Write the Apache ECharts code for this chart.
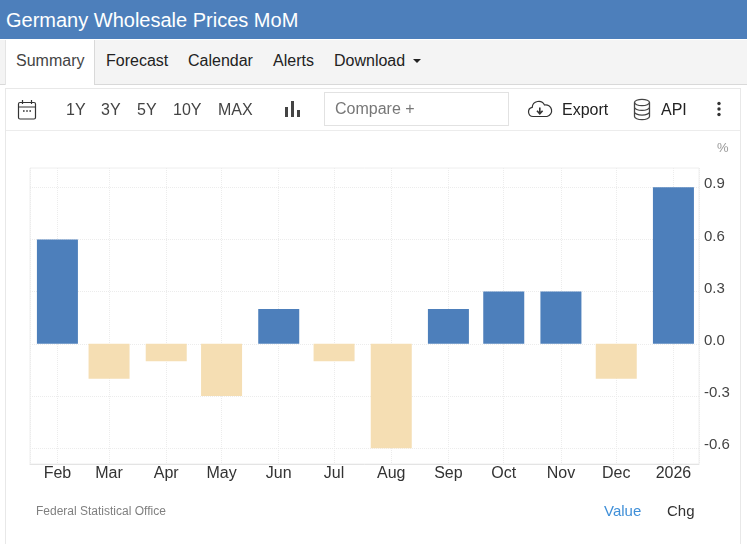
<!DOCTYPE html>
<html lang="en">
<head>
<meta charset="UTF-8">
<title>Germany Wholesale Prices MoM</title>
<script src="https://cdn.jsdelivr.net/npm/echarts@6/dist/echarts.min.js"></script>
<style>
  html, body { margin: 0; padding: 0; background: #fff; overflow: hidden; }
  body { width: 747px; height: 544px; position: relative; font-family: "Liberation Sans", Arial, sans-serif; }
  #main { position: absolute; left: 0; top: 0; width: 747px; height: 544px; }
  .box { position: absolute; box-sizing: border-box; }
  .t { position: absolute; white-space: nowrap; font-size: 16px; line-height: 20px; color: #333; }
  svg { position: absolute; }
</style>
</head>
<body>
  <div class="box" style="left:5px;top:88px;width:736px;height:456px;border:1px solid #e8e8e8;border-bottom:0"></div>
  <div class="box" style="left:6px;top:130px;width:734px;height:1px;background:#ececec"></div>
  <div id="main"></div>

  <div class="box" style="left:0;top:0;width:747px;height:39px;background:#4d7fbb"></div>
  <div class="t" style="left:6px;top:9px;font-size:20px;line-height:23px;color:#fff">Germany Wholesale Prices MoM</div>

  <div class="box" style="left:0;top:40px;width:747px;height:45px;background:#f4f4f4;border-bottom:1px solid #d9d9d9"></div>
  <div class="box" style="left:5px;top:40px;width:90px;height:45px;background:#fff;border-left:1px solid #e4e4e4;border-right:1px solid #d9d9d9"></div>
  <div class="t" style="left:16px;top:51px;color:#444">Summary</div>
  <div class="t" style="left:106px;top:51px;color:#222">Forecast</div>
  <div class="t" style="left:188px;top:51px;color:#222">Calendar</div>
  <div class="t" style="left:273px;top:51px;color:#222">Alerts</div>
  <div class="t" style="left:334px;top:51px;color:#222">Download</div>
  <svg style="left:412px;top:58px" width="10" height="6"><path d="M1 1h8L5 5z" fill="#222"/></svg>

  <svg style="left:17px;top:99px" width="20" height="22" fill="none" stroke="#333" stroke-width="1.2">
    <rect x="1.5" y="3.5" width="17" height="16.5" rx="1.5"/>
    <path d="M1.5 8h17M5.5 1v4M14.5 1v4"/>
    <path d="M6 12h1.6M9.2 12h1.6M12.4 12h1.6" stroke-width="1.6"/>
  </svg>
  <div class="t" style="left:66px;top:100px;color:#444">1Y</div>
  <div class="t" style="left:101px;top:100px;color:#444">3Y</div>
  <div class="t" style="left:137px;top:100px;color:#444">5Y</div>
  <div class="t" style="left:173px;top:100px;color:#444">10Y</div>
  <div class="t" style="left:218px;top:100px;color:#444">MAX</div>
  <svg style="left:284px;top:100px" width="16" height="18" fill="#444">
    <rect x="1" y="7" width="3" height="10"/><rect x="7" y="1" width="3" height="16"/><rect x="13" y="10" width="3" height="7"/>
  </svg>
  <div class="box" style="left:324px;top:92px;width:185px;height:34px;border:1px solid #e2e2e2;background:#fff"></div>
  <div class="t" style="left:335px;top:99px;color:#777">Compare +</div>
  <svg style="left:527px;top:99px" width="26" height="20" fill="none" stroke="#333" stroke-width="1.2">
    <path d="M7 17.5H6a4.6 4.6 0 0 1-.8-9.1A6.5 6.5 0 0 1 17.5 6a5.8 5.8 0 0 1 2.5 11.5z"/>
    <path d="M12.8 8.5v6M10 11.8l2.8 3 2.8-3" stroke-width="1.6"/>
  </svg>
  <div class="t" style="left:562px;top:100px;color:#222">Export</div>
  <svg style="left:633px;top:98px" width="18" height="23" fill="none" stroke="#444" stroke-width="1.3">
    <ellipse cx="9" cy="4.5" rx="7.5" ry="3.2"/>
    <path d="M1.5 4.5v14c0 1.8 3.4 3.2 7.5 3.2s7.5-1.4 7.5-3.2v-14M1.5 9.2c0 1.8 3.4 3.2 7.5 3.2s7.5-1.4 7.5-3.2M1.5 13.9c0 1.8 3.4 3.2 7.5 3.2s7.5-1.4 7.5-3.2"/>
  </svg>
  <div class="t" style="left:661px;top:100px;color:#222">API</div>
  <svg style="left:716px;top:101px" width="6" height="16" fill="#333">
    <circle cx="3" cy="2.5" r="1.7"/><circle cx="3" cy="8" r="1.7"/><circle cx="3" cy="13.5" r="1.7"/>
  </svg>

  <div class="t" style="left:717px;top:140px;font-size:13px;line-height:15px;color:#999">%</div>
  <div class="t" style="left:36px;top:504px;font-size:12px;line-height:14px;color:#808080">Federal Statistical Office</div>
  <div class="t" style="left:604px;top:502px;font-size:15px;line-height:18px;color:#3f8fd8">Value</div>
  <div class="t" style="left:667px;top:502px;font-size:15px;line-height:18px;color:#333">Chg</div>

  <script type="text/javascript">
    const dates = ['2025-02-01', '2025-03-01', '2025-04-01', '2025-05-01', '2025-06-01', '2025-07-01',
                   '2025-08-01', '2025-09-01', '2025-10-01', '2025-11-01', '2025-12-01', '2026-01-01'];
    const tickLabels = ['Feb', 'Mar', 'Apr', 'May', 'Jun', 'Jul', 'Aug', 'Sep', 'Oct', 'Nov', 'Dec', '2026'];
    const values = [0.6, -0.2, -0.1, -0.3, 0.2, -0.1, -0.6, 0.2, 0.3, 0.3, -0.2, 0.9];
    const yTicks = [-0.6, -0.3, 0, 0.3, 0.6, 0.9];

    const times = dates.map(d => new Date(d + 'T00:00:00').getTime());
    const gridLine = { show: true, lineStyle: { color: '#ececec', type: 'dotted', width: 1 } };

    const myChart = echarts.init(document.getElementById('main'));

    const option = {
      animation: false,
      grid: { left: 30, top: 168, width: 669, height: 296, show: true, borderColor: '#eeeeee', borderWidth: 1 },
      xAxis: {
        type: 'time',
        // echarts widens the range by half a bar each side, so these are tighter than what shows
        min: new Date('2025-01-28T06:00:00').getTime(),
        max: new Date('2026-01-03T18:00:00').getTime(),
        splitNumber: 12,
        axisLine: { show: true, onZero: false, lineStyle: { color: '#e4e4e4' } },
        axisTick: { show: false },
        axisLabel: {
          hideOverlap: false,
          showMinLabel: false,
          showMaxLabel: false,
          margin: 2,
          color: '#333',
          fontSize: 16,
          fontFamily: 'Liberation Sans',
          formatter: value => tickLabels[times.indexOf(value)] || ''
        },
        splitLine: gridLine
      },
      yAxis: {
        type: 'value',
        position: 'right',
        min: -0.69,
        max: 1.01,
        axisLine: { show: false },
        axisTick: { show: false, customValues: yTicks },
        axisLabel: {
          customValues: yTicks,
          margin: 5,
          color: '#444',
          fontSize: 15,
          fontFamily: 'Liberation Sans',
          verticalAlign: 'bottom',
          lineHeight: 6,
          formatter: value => value.toFixed(1)
        },
        splitLine: gridLine
      },
      series: [{
        type: 'bar',
        barWidth: 41,
        data: times.map((t, i) => ({
          value: [t, values[i]],
          itemStyle: { color: values[i] >= 0 ? '#4d7fbb' : '#f5deb3' }
        }))
      }]
    };

    myChart.setOption(option);
  </script>
</body>
</html>
